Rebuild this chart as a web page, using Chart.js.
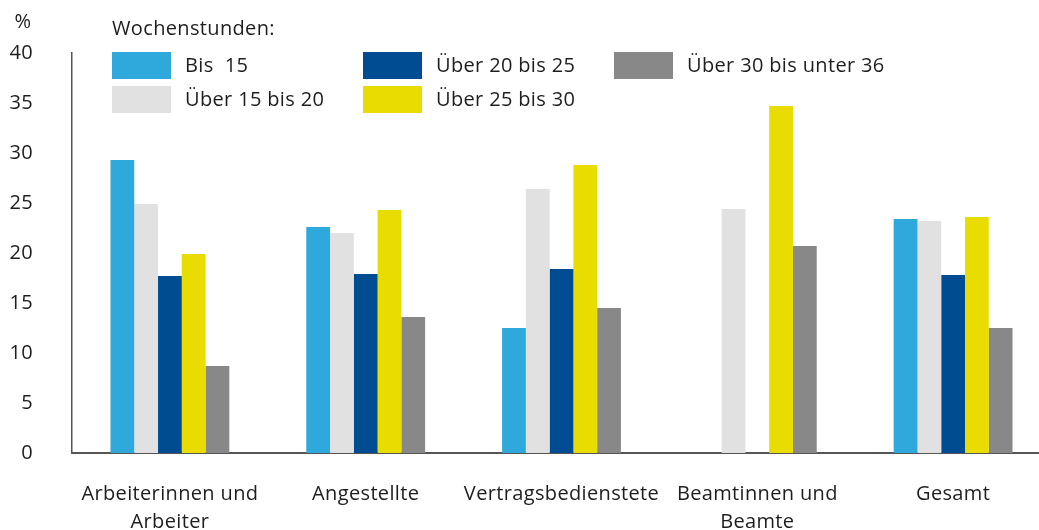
<!DOCTYPE html>
<html lang="de">
<head>
<meta charset="utf-8">
<title>Wochenstunden nach Beschäftigtengruppe</title>
<script src="https://cdn.jsdelivr.net/npm/chart.js@4/dist/chart.umd.min.js"></script>
<style>
  html, body { margin: 0; padding: 0; background: #fff; overflow: hidden; }
  /* the category axis runs a little past the right window edge */
  .wrap { position: relative; width: 1051px; height: 530px; }
</style>
</head>
<body>
<div class="wrap"><canvas id="chart"></canvas></div>
<script>
// Beschäftigtengruppen (x-Achse)
const categories = [
  ['Arbeiterinnen und', 'Arbeiter'],
  'Angestellte',
  'Vertragsbedienstete',
  ['Beamtinnen und', 'Beamte'],
  'Gesamt'
]

// Anteile in % je Wochenstunden-Klasse
const bis15      = [29.3, 22.6, 12.5, null, 23.4]
const ueber15_20 = [24.9, 22.0, 26.4, 24.4, 23.2]
const ueber20_25 = [17.7, 17.9, 18.4, null, 17.8]
const ueber25_30 = [19.9, 24.3, 28.8, 34.7, 23.6]
const ueber30_36 = [8.7, 13.6, 14.5, 20.7, 12.5]

const seriesNames = ['Bis  15', 'Über 15 bis 20', 'Über 20 bis 25', 'Über 25 bis 30', 'Über 30 bis unter 36']
const yTicks = [0, 5, 10, 15, 20, 25, 30, 35, 40]

const colors = ['#2fa8dc', '#e1e1e1', '#004c93', '#e8dc00', '#888888']
const FONT = '"Open Sans", sans-serif'
const FONT_SIZE = 20
const TEXT = '#1e1e1e'

const datasets = [bis15, ueber15_20, ueber20_25, ueber25_30, ueber30_36].map((data, i) => ({
  label: seriesNames[i],
  data,
  backgroundColor: colors[i],
  borderWidth: 0,
  categoryPercentage: 0.607,
  barPercentage: 1
}))

// slightly looser tracking for all canvas text
const spacingPlugin = {
  id: 'letterSpacing',
  beforeDraw (chart) { chart.ctx.letterSpacing = '0.35px' }
}

// legend is laid out column-wise in three columns, two rows, plus a title
const legendPlugin = {
  id: 'columnLegend',
  afterDraw (chart) {
    const { ctx } = chart
    ctx.save()
    ctx.fillStyle = TEXT
    ctx.font = FONT_SIZE + 'px ' + FONT
    ctx.textBaseline = 'middle'
    ctx.textAlign = 'left'
    ctx.fillText('Wochenstunden:', 112, 29)
    ctx.textAlign = 'center'
    ctx.fillText('%', 23, 22)
    ctx.textAlign = 'left'
    const colX = [112, 363, 614]
    const rowY = [52, 86]
    chart.data.datasets.forEach((ds, i) => {
      const x = colX[Math.floor(i / 2)]
      const y = rowY[i % 2]
      ctx.fillStyle = ds.backgroundColor
      ctx.fillRect(x, y, 59, 27)
      ctx.fillStyle = TEXT
      ctx.fillText(ds.label, x + 73, y + 14)
    })
    ctx.restore()
  }
}

new Chart(document.getElementById('chart'), {
  type: 'bar',
  data: { labels: categories, datasets },
  options: {
    responsive: true,
    maintainAspectRatio: false,
    animation: false,
    layout: { padding: { top: 53, left: 0, right: 0, bottom: 0 } },
    plugins: {
      legend: { display: false },
      tooltip: { enabled: false }
    },
    scales: {
      x: {
        grid: { display: false, drawTicks: false },
        border: { display: true, color: '#555', width: 2 },
        ticks: {
          color: TEXT,
          font: { family: FONT, size: FONT_SIZE, lineHeight: 1.4 },
          padding: 27,
          maxRotation: 0,
          autoSkip: false
        },
        afterFit (scale) { scale.height = 77 }
      },
      y: {
        min: 0,
        max: 40,
        grid: { display: false, drawTicks: false },
        border: { display: true, color: '#555', width: 1.5 },
        afterBuildTicks (scale) { scale.ticks = yTicks.map(v => ({ value: v })) },
        ticks: {
          color: TEXT,
          font: { family: FONT, size: FONT_SIZE },
          padding: 39
        },
        afterFit (scale) { scale.width = 72 }
      }
    }
  },
  plugins: [spacingPlugin, legendPlugin]
})
</script>
</body>
</html>
